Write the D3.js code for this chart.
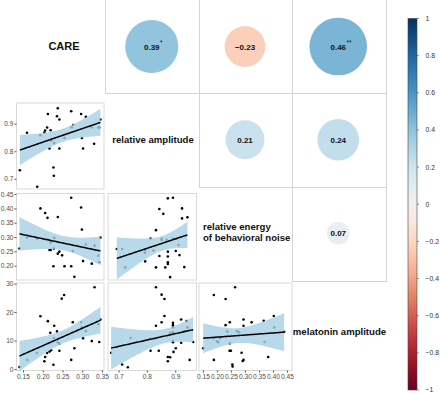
<!DOCTYPE html>
<html>
<head>
<meta charset="utf-8">
<script src="https://cdn.jsdelivr.net/npm/d3@7"></script>
<style>
  body { margin: 0; background: #fff; }
  svg { display: block; font-family: "Liberation Sans", Arial, sans-serif; }
</style>
</head>
<body>
<div id="chart"></div>
<script>
// names on the diagonal
const varLabels = [["CARE"], ["relative amplitude"], ["relative energy", "of behavioral noise"], ["melatonin amplitude"]];

// upper triangle: correlation coefficients
const corrCells = [[0, 1], [0, 2], [0, 3], [1, 2], [1, 3], [2, 3]];
const corrValues = [0.39, -0.23, 0.46, 0.21, 0.24, 0.07];
const corrStars = ["*", "", "**", "", "", ""];

// tick labels
const careTicks = [0.15, 0.20, 0.25, 0.30, 0.35];
const ampTicks = [0.7, 0.8, 0.9];
const noiseXTicks = [0.15, 0.20, 0.25, 0.30, 0.35, 0.40, 0.45];
const noiseYTicks = [0.20, 0.25, 0.30, 0.35, 0.40, 0.45];
const melTicks = [0, 10, 20, 30];
const legendTicks = [1, 0.8, 0.6, 0.4, 0.2, 0, -0.2, -0.4, -0.6, -0.8, -1];

// lower triangle: scatter points [x, y]
const ampVsCare = [[0.142,0.731],[0.160,0.867],[0.186,0.671],[0.194,0.858],[0.204,0.868],[0.206,0.875],[0.211,0.886],[0.213,0.935],[0.217,0.810],[0.220,0.876],[0.222,0.839],[0.227,0.741],[0.228,0.711],[0.229,0.830],[0.236,0.927],[0.238,0.956],[0.242,0.915],[0.242,0.810],[0.255,0.848],[0.272,0.945],[0.273,0.887],[0.277,0.895],[0.297,0.935],[0.299,0.848],[0.302,0.810],[0.309,0.925],[0.324,0.886],[0.330,0.827],[0.341,0.886],[0.343,0.886],[0.346,0.915]];
const noiseVsCare = [[0.141,0.260],[0.160,0.298],[0.185,0.295],[0.194,0.400],[0.206,0.384],[0.212,0.367],[0.212,0.292],[0.217,0.255],[0.220,0.255],[0.220,0.281],[0.227,0.198],[0.228,0.260],[0.229,0.297],[0.238,0.370],[0.238,0.242],[0.242,0.249],[0.249,0.236],[0.255,0.198],[0.272,0.437],[0.272,0.198],[0.276,0.251],[0.280,0.161],[0.297,0.403],[0.299,0.326],[0.302,0.216],[0.309,0.274],[0.324,0.207],[0.331,0.270],[0.341,0.235],[0.343,0.212],[0.346,0.298]];
const melVsCare = [[0.141,0.7],[0.161,3.2],[0.185,5.6],[0.194,18.5],[0.204,2.7],[0.206,4.2],[0.211,5.6],[0.213,16.8],[0.217,6.1],[0.219,12.7],[0.221,6.6],[0.227,1.5],[0.228,10.9],[0.229,15.2],[0.236,13.2],[0.238,9.4],[0.242,8.9],[0.242,6.4],[0.248,24.7],[0.254,26.0],[0.272,3.2],[0.276,16.4],[0.280,7.3],[0.297,16.4],[0.299,14.6],[0.302,10.8],[0.309,13.3],[0.324,9.8],[0.331,28.7],[0.341,15.7],[0.343,9.5],[0.346,17.4]];
const noiseVsAmp = [[0.694,0.258],[0.713,0.258],[0.724,0.194],[0.793,0.253],[0.793,0.245],[0.794,0.215],[0.813,0.295],[0.823,0.253],[0.832,0.324],[0.832,0.194],[0.844,0.398],[0.844,0.234],[0.852,0.294],[0.852,0.290],[0.858,0.381],[0.865,0.194],[0.870,0.290],[0.874,0.435],[0.874,0.249],[0.874,0.232],[0.874,0.212],[0.874,0.206],[0.882,0.160],[0.892,0.437],[0.892,0.295],[0.902,0.251],[0.904,0.295],[0.912,0.272],[0.915,0.237],[0.924,0.400],[0.924,0.365],[0.932,0.195],[0.943,0.369]];
const melVsAmp = [[0.674,5.7],[0.713,1.6],[0.733,0.6],[0.743,10.9],[0.813,10.6],[0.813,6.4],[0.832,28.7],[0.832,15.2],[0.842,6.4],[0.852,26.1],[0.852,16.4],[0.862,24.6],[0.862,18.6],[0.874,4.2],[0.874,2.7],[0.882,12.7],[0.882,4.1],[0.892,16.2],[0.892,15.4],[0.892,14.6],[0.892,12.9],[0.892,9.8],[0.892,9.4],[0.894,6.0],[0.902,7.3],[0.921,17.4],[0.921,9.2],[0.932,13.3],[0.940,16.8],[0.943,14.6],[0.951,3.2],[0.963,9.5]];
const melVsNoise = [[0.151,7.3],[0.189,26.0],[0.189,3.2],[0.189,10.8],[0.200,9.7],[0.205,9.4],[0.211,10.8],[0.231,24.6],[0.231,15.4],[0.237,13.2],[0.246,16.4],[0.246,9.0],[0.245,6.4],[0.250,6.4],[0.255,1.6],[0.256,0.9],[0.265,28.7],[0.271,13.3],[0.279,12.9],[0.288,5.7],[0.292,2.8],[0.295,17.4],[0.295,15.2],[0.295,3.2],[0.324,16.4],[0.367,16.9],[0.370,9.5],[0.383,4.2],[0.403,18.6],[0.405,14.6],[0.440,13.1]];

function createChart() {
    const width = 440, height = 393;
    const svg = d3.select("#chart").append("svg")
        .attr("width", width).attr("height", height);

    // panel extents (lower triangle), columns and rows
    const colX = [[16.5, 104], [108, 196.5], [199, 292]];
    const rowY = [[103, 189], [193.5, 280], [283, 370.5]];

    const xScales = [
        d3.scaleLinear().domain([0.1335, 0.355]).range(colX[0]),
        d3.scaleLinear().domain([0.663, 0.975]).range(colX[1]),
        d3.scaleLinear().domain([0.136, 0.468]).range(colX[2])
    ];
    const yScales = [
        d3.scaleLinear().domain([0.663, 0.975]).range([rowY[0][1], rowY[0][0]]),
        d3.scaleLinear().domain([0.150, 0.452]).range([rowY[1][1], rowY[1][0]]),
        d3.scaleLinear().domain([-0.53, 30.2]).range([rowY[2][1], rowY[2][0]])
    ];

    // upper triangle grid (cell edges)
    const gx = [12, 105, 198.5, 291.5, 385];
    const gy = [-1, 93, 186.5, 280, 373];
    const grid = svg.append("g");
    corrCells.forEach(function(c) {
        grid.append("rect")
            .attr("x", Math.round(gx[c[1]]) + 0.5).attr("y", Math.round(gy[c[0]]) + 0.5)
            .attr("width", Math.round(gx[c[1] + 1] - gx[c[1]]))
            .attr("height", Math.round(gy[c[0] + 1] - gy[c[0]]))
            .attr("fill", "none").attr("stroke", "#d4d4d4");
    });

    // scatter panels
    const panels = [
        { r: 0, c: 0, data: ampVsCare },
        { r: 1, c: 0, data: noiseVsCare },
        { r: 2, c: 0, data: melVsCare },
        { r: 1, c: 1, data: noiseVsAmp },
        { r: 2, c: 1, data: melVsAmp },
        { r: 2, c: 2, data: melVsNoise }
    ];

    panels.forEach(function(p) {
        const x = xScales[p.c], y = yScales[p.r];
        const g = svg.append("g");
        g.append("rect")
            .attr("x", colX[p.c][0]).attr("y", rowY[p.r][0])
            .attr("width", colX[p.c][1] - colX[p.c][0])
            .attr("height", rowY[p.r][1] - rowY[p.r][0])
            .attr("fill", "#fff").attr("stroke", "#d9d9d9").attr("stroke-width", 1);

        g.selectAll("circle").data(p.data).enter().append("circle")
            .attr("cx", function(d) { return x(d[0]); })
            .attr("cy", function(d) { return y(d[1]); })
            .attr("r", 1.3).attr("fill", "#000");

        // linear fit with 95% confidence band
        const n = p.data.length;
        const mx = d3.mean(p.data, function(d) { return d[0]; });
        const my = d3.mean(p.data, function(d) { return d[1]; });
        const sxx = d3.sum(p.data, function(d) { return (d[0] - mx) * (d[0] - mx); });
        const sxy = d3.sum(p.data, function(d) { return (d[0] - mx) * (d[1] - my); });
        const b = sxy / sxx, a = my - b * mx;
        const sse = d3.sum(p.data, function(d) { const e = d[1] - (a + b * d[0]); return e * e; });
        const s = Math.sqrt(sse / (n - 2));
        const t = 2.045;
        const ext = d3.extent(p.data, function(d) { return d[0]; });
        const xs = d3.range(0, 81).map(function(i) { return ext[0] + (ext[1] - ext[0]) * i / 80; });
        const band = xs.map(function(v) {
            const fit = a + b * v;
            const se = s * Math.sqrt(1 / n + (v - mx) * (v - mx) / sxx);
            return { x: v, lo: fit - t * se, hi: fit + t * se, fit: fit };
        });

        g.append("path").datum(band)
            .attr("d", d3.area()
                .x(function(d) { return x(d.x); })
                .y0(function(d) { return y(d.lo); })
                .y1(function(d) { return y(d.hi); }))
            .attr("fill", "#a5d0e3").attr("opacity", 0.8);

        g.append("path").datum(band)
            .attr("d", d3.line()
                .x(function(d) { return x(d.x); })
                .y(function(d) { return y(d.fit); }))
            .attr("fill", "none").attr("stroke", "#000").attr("stroke-width", 1.5);
    });

    // axes
    const tickColor = "#4d4d4d";
    function styleAxis(sel) {
        sel.select(".domain").remove();
        sel.selectAll(".tick line").attr("stroke", "#555");
        sel.selectAll(".tick text").attr("fill", tickColor)
            .style("font-size", "6.6px").style("font-family", "Liberation Sans, Arial, sans-serif");
    }
    const yTickSets = [
        { ticks: ampTicks, fmt: ".1f" },
        { ticks: noiseYTicks, fmt: ".2f" },
        { ticks: melTicks, fmt: "d" }
    ];
    yTickSets.forEach(function(s, i) {
        svg.append("g")
            .attr("transform", "translate(" + colX[0][0] + ",0)")
            .call(d3.axisLeft(yScales[i]).tickValues(s.ticks).tickFormat(d3.format(s.fmt))
                .tickSize(2).tickPadding(1))
            .call(styleAxis);
    });
    const xTickSets = [
        { ticks: careTicks, fmt: ".2f" },
        { ticks: ampTicks, fmt: ".1f" },
        { ticks: noiseXTicks, fmt: ".2f" }
    ];
    xTickSets.forEach(function(s, i) {
        svg.append("g")
            .attr("transform", "translate(0," + rowY[2][1] + ")")
            .call(d3.axisBottom(xScales[i]).tickValues(s.ticks).tickFormat(d3.format(s.fmt))
                .tickSize(2).tickPadding(1.5))
            .call(styleAxis);
    });

    // diagonal labels
    const labelPos = [
        { x: 64, y: 50, anchor: "middle", size: 11 },
        { x: 153, y: 142.5, anchor: "middle", size: 9.6 },
        { x: 203, y: 230, anchor: "start", size: 9.6 },
        { x: 339.5, y: 335, anchor: "middle", size: 9.6 }
    ];
    varLabels.forEach(function(lines, i) {
        const lp = labelPos[i];
        const txt = svg.append("text")
            .attr("text-anchor", lp.anchor)
            .style("font-weight", "bold").style("font-size", lp.size + "px")
            .attr("fill", "#111");
        lines.forEach(function(l, k) {
            txt.append("tspan").attr("x", lp.x).attr("y", lp.y + k * 10.5).text(l);
        });
    });

    // correlation circles
    const color = function(v) { return d3.interpolateRdBu((v + 1) / 2); };
    const rScale = d3.scaleSqrt().domain([0, 1]).range([0, 42.5]);
    const fmtCorr = d3.format(".2f");
    corrCells.forEach(function(c, i) {
        const cx = (gx[c[1]] + gx[c[1] + 1]) / 2;
        const cy = (Math.max(gy[c[0]], 0) + gy[c[0] + 1]) / 2;
        const v = corrValues[i];
        svg.append("circle")
            .attr("cx", cx).attr("cy", cy)
            .attr("r", rScale(Math.abs(v)))
            .attr("fill", color(v));
        const t = svg.append("text")
            .attr("x", cx).attr("y", cy + 3)
            .attr("text-anchor", "middle")
            .style("font-weight", "bold").style("font-size", "8px")
            .attr("fill", "#111")
            .text(fmtCorr(v));
        if (corrStars[i]) {
            const w = t.node().getComputedTextLength();
            svg.append("text")
                .attr("x", cx + w / 2 + 0.5).attr("y", cy - 1.5)
                .style("font-size", "6.5px").attr("fill", "#111")
                .text(corrStars[i]);
        }
    });

    // colour bar legend
    const barX = 408, barW = 9;
    const ly = d3.scaleLinear().domain([-1, 1]).range([390, 18.5]);
    const grad = svg.append("defs").append("linearGradient")
        .attr("id", "rdbu").attr("x1", 0).attr("y1", 1).attr("x2", 0).attr("y2", 0);
    d3.range(0, 21).forEach(function(i) {
        grad.append("stop").attr("offset", i / 20).attr("stop-color", color(-1 + i / 10));
    });
    svg.append("rect")
        .attr("x", barX).attr("y", ly(1)).attr("width", barW).attr("height", ly(-1) - ly(1))
        .attr("fill", "url(#rdbu)").attr("stroke", "#444").attr("stroke-width", 0.6);
    const fmtLeg = d3.format("~g");
    svg.selectAll(".legtick").data(legendTicks).enter().append("line")
        .attr("x1", barX + barW).attr("x2", barX + barW + 2)
        .attr("y1", function(d) { return ly(d); }).attr("y2", function(d) { return ly(d); })
        .attr("stroke", "#444").attr("stroke-width", 0.6);
    svg.selectAll(".leglab").data(legendTicks).enter().append("text")
        .attr("x", 425.5).attr("y", function(d) { return ly(d) + 2.4; })
        .style("font-size", "6.8px").attr("fill", "#333")
        .text(function(d) { return fmtLeg(d); });
}

document.addEventListener("DOMContentLoaded", createChart);
</script>
</body>
</html>
